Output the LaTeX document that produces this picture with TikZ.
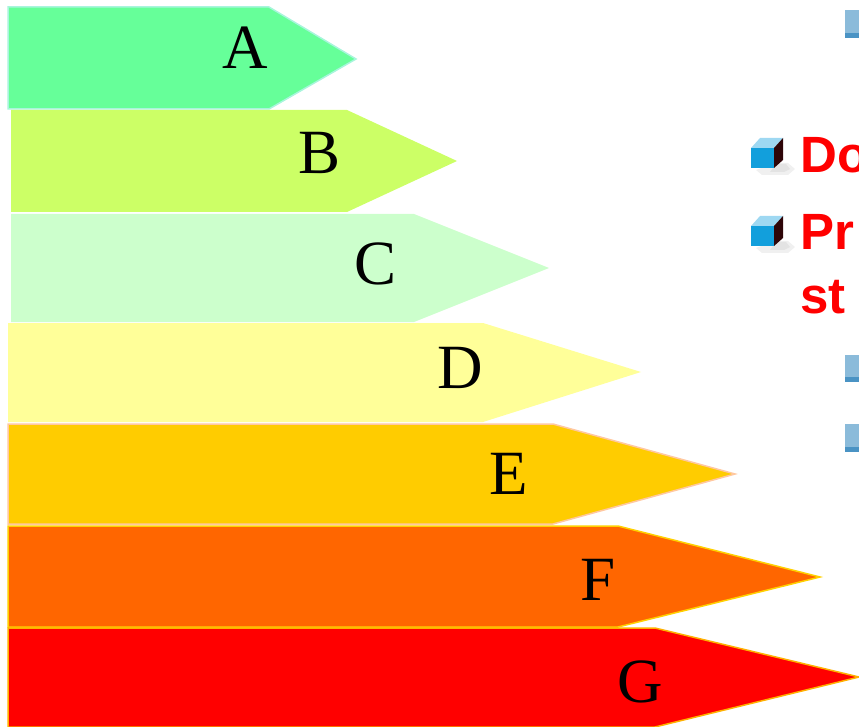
\documentclass[tikz,border=0pt]{standalone}
\usepackage{fontspec}
\setmainfont{Liberation Serif}
\newfontfamily\bulletfont{Liberation Sans}
\definecolor{cA}{HTML}{66FF99}
\definecolor{cB}{HTML}{CCFF66}
\definecolor{cC}{HTML}{CCFFCC}
\definecolor{cD}{HTML}{FFFF99}
\definecolor{cE}{HTML}{FFCC00}
\definecolor{cF}{HTML}{FF6600}
\definecolor{cG}{HTML}{FF0000}
\definecolor{bA}{HTML}{A8F5DC}
\definecolor{bE}{HTML}{FFC8A0}
\definecolor{bF}{HTML}{FFD000}
\definecolor{bG}{HTML}{FFB000}
\definecolor{cubefront}{HTML}{129FDC}
\definecolor{cubetop}{HTML}{9ED8F2}
\definecolor{cubeside}{HTML}{2E0508}
\definecolor{sqlight}{HTML}{8BBBDA}
\definecolor{sqdark}{HTML}{4A93C4}
\tikzset{
  bar/.style={line width=1.5pt, line join=miter},
  letter/.style={anchor=base, font=\fontsize{63}{63}\selectfont, inner sep=0pt},
  redtext/.style={anchor=base west, inner sep=0pt, text=red,
    font=\bulletfont\bfseries\fontsize{51}{51}\selectfont},
  sqbullet/.style={fill=sqlight, draw=none},
  sqstrip/.style={fill=sqdark, draw=none}
}
\begin{document}
\begin{tikzpicture}[x=1pt,y=-1pt]
\useasboundingbox (0,0) rectangle (859,727);
\clip (0,0) rectangle (859,727);

% energy label arrows
\path[bar, fill=cA, draw=bA] (8,7) -- (269,7) -- (356,59) -- (269,109) -- (8,109) -- cycle;
\path[bar, fill=cB] (11,110) -- (347,110) -- (457,161) -- (347,212) -- (11,212) -- cycle;
\path[bar, fill=cC] (11,214) -- (414,214) -- (549,268) -- (414,322) -- (11,322) -- cycle;
\path[bar, fill=cD] (8,323) -- (483,323) -- (641,372) -- (483,422) -- (8,422) -- cycle;
\path[bar, fill=cE, draw=bE] (8,424) -- (553,424) -- (735,474) -- (553,524) -- (8,524) -- cycle;
\path[bar, fill=cF, draw=bF] (8,526) -- (618,526) -- (820,577) -- (618,627) -- (8,627) -- cycle;
\path[bar, fill=cG, draw=bG] (8,628) -- (655,628) -- (859,677) -- (655,727) -- (8,727) -- cycle;

\node[letter] (la) at (245,69) {A};
\node[letter] (lb) at (320,174) {B};
\node[letter] (lc) at (376,284) {C};
\node[letter] (ld) at (460,388) {D};
\node[letter] (le) at (509,494) {E};
\node[letter] (lf) at (598,600) {F};
\node[letter] (lg) at (640,702) {G};

% cube bullets
\foreach \dy in {0,78} {
  \begin{scope}[yshift=-\dy pt]
    \fill[gray!12] (774,163) -- (788,163) -- (795,169) -- (788,175) -- (762,175) -- (756,170) -- cycle;
    \fill[gray!22] (776,164) -- (786,164) -- (790,169) -- (784,172) -- (770,172) -- cycle;
    \fill[cubefront] (751,148) rectangle (774,168);
    \fill[cubetop] (751,148) -- (760,138) -- (783,138) -- (774,148) -- cycle;
    \fill[cubeside] (774,148) -- (783,138) -- (783,160) -- (774,168) -- cycle;
  \end{scope}
}

\node[redtext] (t1) at (800,173) {Do};
\node[redtext] (t2) at (800,250) {Pr};
\node[redtext] (t3) at (800,313) {st};

% sub bullets (cut off at right edge)
\fill[sqbullet] (845,10) rectangle (859,38);
\fill[sqstrip] (845,33) rectangle (859,38);
\fill[sqbullet] (845,355) rectangle (859,382);
\fill[sqstrip] (845,377) rectangle (859,382);
\fill[sqbullet] (845,424) rectangle (859,452);
\fill[sqstrip] (845,447) rectangle (859,452);
\end{tikzpicture}
\end{document}
